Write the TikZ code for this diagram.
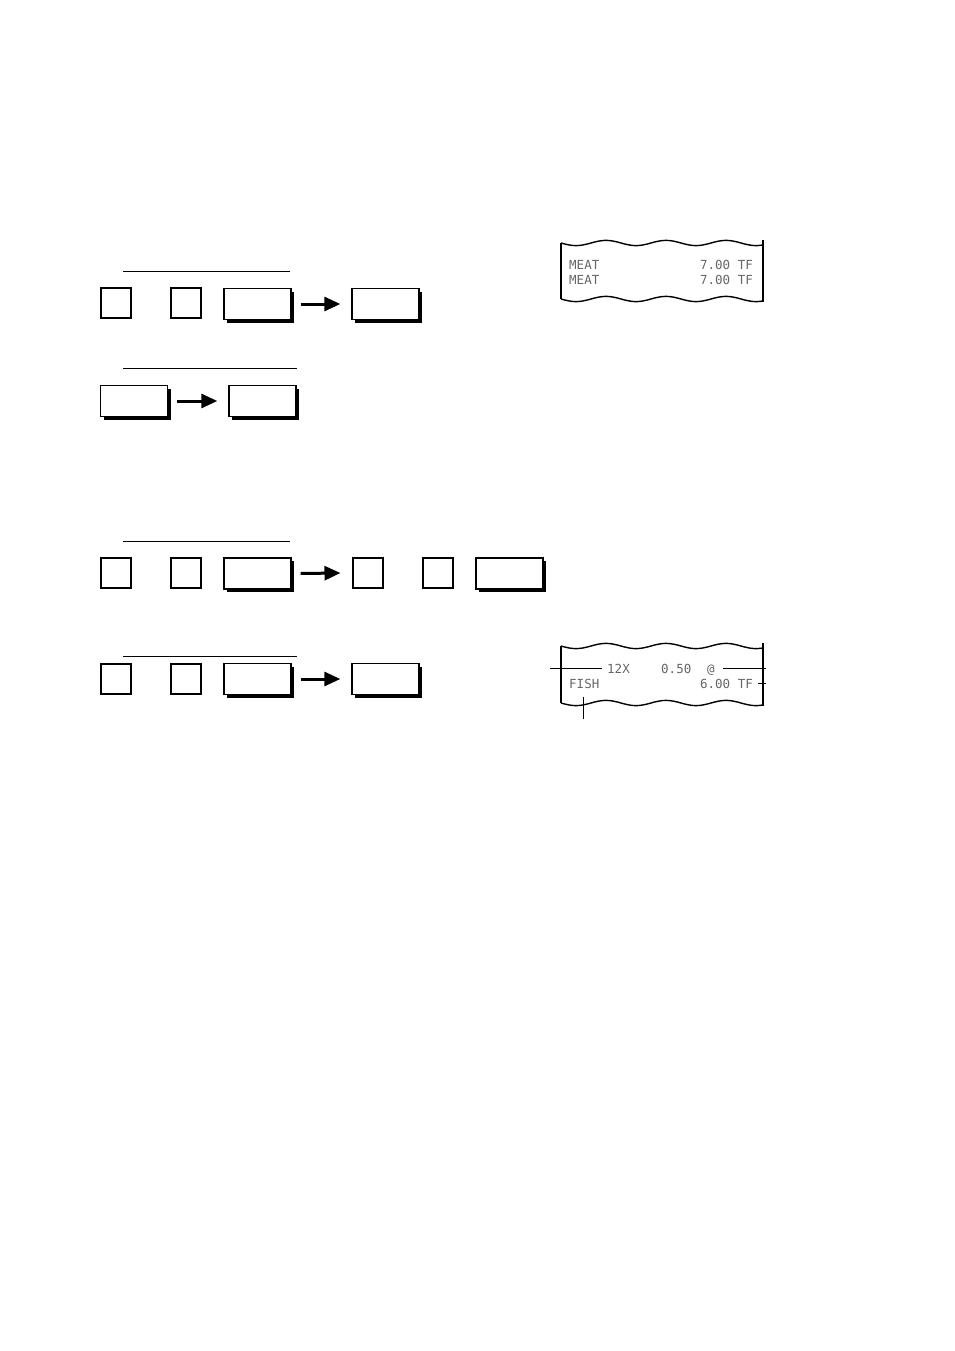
\documentclass[tikz,border=0pt]{standalone}
\usepackage{fontspec}
\setmonofont{DejaVu Sans Mono}
\usetikzlibrary{shadows,arrows.meta}
\begin{document}
\begin{tikzpicture}[x=1pt,y=-1pt,
  smallkey/.style={draw,line width=2pt,fill=white,minimum width=30pt,minimum height=30pt,inner sep=0pt},
  widekey/.style={draw,line width=1.4pt,fill=white,minimum width=67pt,minimum height=31pt,inner sep=0pt,
     drop shadow={shadow xshift=3pt,shadow yshift=-3pt,fill=black,opacity=1}},
  arr/.style={line width=3pt,-{Triangle[length=16pt,width=14pt]}},
  rule/.style={line width=1pt},
  rtext/.style={font=\ttfamily\fontsize{12.5}{14}\selectfont,text=black!60,inner sep=0pt},
  lead/.style={line width=0.8pt},
  paper/.style={line width=1.4pt}]
\useasboundingbox (0,0) rectangle (954,1351);
% row 1
\draw[rule] (123,271) -- (290,271);
\node[smallkey] (a1) at (116,303) {};
\node[smallkey] (a2) at (186,303) {};
\node[widekey] (a3) at (257.5,304) {};
\node[widekey] (a4) at (385.5,304) {};
\draw[arr] ([xshift=9pt]a3.east) -- ([xshift=-11pt]a4.west);
% row 2
\draw[rule] (123,368) -- (297,368);
\node[widekey] (b1) at (134,401) {};
\node[widekey] (b2) at (262.5,401) {};
\draw[arr] ([xshift=9pt]b1.east) -- ([xshift=-11pt]b2.west);
% row 3
\draw[rule] (123,541) -- (290,541);
\node[smallkey] (c1) at (116,573) {};
\node[smallkey] (c2) at (186,573) {};
\node[widekey] (c3) at (257.5,573.5) {};
\node[smallkey] (c4) at (367.5,573) {};
\node[smallkey] (c5) at (438,573) {};
\node[widekey] (c6) at (509.5,573.5) {};
\draw[arr] ([xshift=9pt]c3.east) -- ([xshift=-11pt]c4.west);
% row 4
\draw[rule] (123,656) -- (297,656);
\node[smallkey] (d1) at (116,679) {};
\node[smallkey] (d2) at (186,679) {};
\node[widekey] (d3) at (257.5,679) {};
\node[widekey] (d4) at (385.5,679) {};
\draw[arr] ([xshift=9pt]d3.east) -- ([xshift=-11pt]d4.west);
% receipt 1
\draw[paper] plot[domain=561:763,samples=80] (\x,{243+2.6*sin((\x-561)*6)});
\draw[paper] plot[domain=561:763,samples=80] (\x,{299+2.6*sin((\x-561)*6)});
\draw[paper] (561,243) -- (561,299);
\draw[paper] (763,240) -- (763,302);
\node[rtext,anchor=base west] (m1) at (569,269) {MEAT};
\node[rtext,anchor=base east] (p1) at (753,269) {7.00 TF};
\node[rtext,anchor=base west] (m2) at (569,284) {MEAT};
\node[rtext,anchor=base east] (p2) at (753,284) {7.00 TF};
% receipt 2
\draw[paper] plot[domain=561:763,samples=80] (\x,{646+2.6*sin((\x-561)*6)});
\draw[paper] plot[domain=561:763,samples=80] (\x,{703+2.6*sin((\x-561)*6)});
\draw[paper] (561,646) -- (561,703);
\draw[paper] (763,643) -- (763,706);
\node[rtext,anchor=base west] (q1) at (607,673) {12X};
\node[rtext,anchor=base west] (q2) at (661,673) {0.50};
\node[rtext,anchor=base west] (q3) at (707,673) {@};
\node[rtext,anchor=base west] (f1) at (569,688) {FISH};
\node[rtext,anchor=base east] (f2) at (753,688) {6.00 TF};
\coordinate (l1) at (550,668);
\coordinate (l2) at (766,668);
\coordinate (l3) at (766,683);
\coordinate (l4) at (583,719);
\draw[lead] (l1) -- ([xshift=-5pt]q1.west |- l1);
\draw[lead] ([xshift=8pt]q3.east |- l2) -- (l2);
\draw[lead] ([xshift=5pt]f2.east |- l3) -- (l3);
\draw[lead] (583,697) -- (l4);
\end{tikzpicture}
\end{document}
